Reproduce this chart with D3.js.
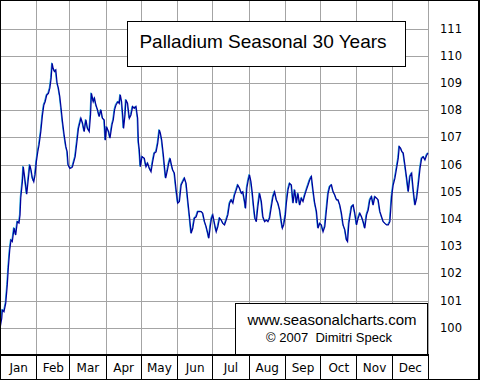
<!DOCTYPE html>
<html><head><meta charset="utf-8">
<script src="https://cdn.jsdelivr.net/npm/d3@7"></script>
<style>html,body{margin:0;padding:0;background:#fff;}svg{display:block;}text{white-space:pre;}</style>
</head><body>
<script>
// ---- data (day of year, seasonal index value) ----
const days = [0,1.5,2,3.4,4.9,6.2,7.1,8.3,9.4,10.5,12,13.4,14.8,16.2,17.1,17.7,19.1,19.9,21.1,22,22.8,23.9,25.4,26.5,27.6,28.8,29.9,31,32.2,33.3,34.8,36.2,37.4,38.5,39.9,41.3,42.5,43.6,44.5,45.3,46.4,47.6,48.7,49.8,51,52.1,53.3,54.7,56.2,57.3,58.1,59.6,61.3,
61.8,64.1,65.6,66.9,69,70.4,71.8,73.3,74.6,76.1,77.2,78,79.5,80.6,81.8,83.2,84.6,86.1,87.4,88.9,89.8,90.9,92.6,93.8,95.5,96.6,97.7,98.9,100.6,101.7,102.6,103.7,104.5,105.4,106.6,107.4,108.8,110.3,111.7,113.1,114.5,116,117.4,118,118.8,119.7,121.1,123.1,
124.5,125.9,127.4,128.8,130.2,131.6,133.1,134.5,135.9,136.8,137.9,139.3,140.4,141.3,142.8,143.9,145.1,146.2,147.3,148.7,150.2,151.6,153,154.5,155.8,157.3,158.7,160.1,161.6,163,164.4,165.8,167.3,168.7,170.1,171.6,172.9,174.4,175.8,177.2,178.1,179.3,180.4,
181.5,182.9,184.4,185.8,187.2,188.7,190,191.5,192.9,194.3,195.8,197.2,198.6,200,201.5,202.8,204.3,205.8,207.1,208.6,209.4,210.5,211.7,212.8,214,215.2,216.3,217.4,218.6,219.9,221.4,222.9,224.2,225.7,227.1,228.5,229.9,231.4,232.8,234.2,235.7,237,238.5,239.9,240.8,241.9,
243.4,244.2,245.6,247,248.5,249.9,251.3,252.8,254.1,255.6,257,258.4,259.9,261.3,262.7,264.1,265.6,266.9,268.4,269.9,271.2,272.7,274.1,275.5,277,278.4,279.8,281.2,282.7,284.1,285.5,287,288.3,289.8,291.2,292.6,294.1,295.5,296.4,297.5,298.9,
299.8,301.2,302.6,304.1,305.4,306.9,308.3,309.7,311.1,312.6,314,315.4,316.9,318.2,319.7,321.2,322.5,324,325.4,326.8,328.2,329.7,331.1,332.5,334,335.3,336.8,338.2,339.6,340.5,341.7,342.8,343.9,345.3,346.8,348.2,349.6,351.1,352.4,353.9,355.3,356.7,358.2,359.6,361,362.4,363.9,365];
const values = [99.98,100.35,100.65,100.59,100.91,101.57,102.2,102.86,103.23,103.17,103.67,103.41,103.9,103.85,104.15,104.77,105.37,105.92,105.51,105.19,104.91,105.37,105.99,105.8,105.5,105.37,105.62,106.11,106.47,106.72,107.21,107.82,108.19,108.31,108.56,108.62,108.81,109.17,109.72,109.54,109.42,109.48,108.99,108.81,108.5,108.07,107.58,107.09,106.66,106.47,105.99,105.86,105.89,
105.92,106.29,106.84,107.33,107.7,107.52,107.21,107.64,107.33,107.21,107.82,108.62,108.31,108.44,108.19,108.01,107.76,108.01,107.7,107.64,106.9,107.39,107.21,106.97,107.46,107.64,108.01,108.19,108.31,108.25,108.56,108.31,107.89,107.33,107.82,108.38,108.25,107.7,107.82,108.13,108.07,108.13,107.7,106.84,106.54,105.92,106.29,106.23,
105.92,106.05,105.86,105.74,106.11,106.42,106.47,106.78,107.27,107.15,106.9,106.36,105.86,105.5,105.8,106.05,106.23,105.99,105.8,105.68,105.07,104.58,104.64,105.25,105.37,105.5,105.31,104.7,104.08,103.47,103.66,104.03,104.08,104.27,104.27,104.27,104.21,103.9,103.72,103.47,103.29,103.72,104.03,
104.15,103.84,103.53,103.72,104.03,103.96,103.84,103.78,103.96,104.15,104.58,104.7,104.58,104.88,105.07,105.25,105.13,104.94,105,104.64,104.39,105.13,105.43,105.62,105.37,104.94,104.45,104.03,103.9,104.45,104.94,104.64,104.08,103.9,103.96,103.9,104.03,104.45,104.82,105,104.7,104.58,104.33,103.9,103.66,103.78,
104.15,104.58,105.07,105.31,105.25,104.58,105.07,104.58,104.94,104.51,104.76,104.64,104.88,105.07,105.25,105.43,105.56,105.07,104.58,104.27,103.66,103.84,103.78,103.53,103.72,104.33,104.94,105.19,105.25,105,104.88,104.7,104.7,104.51,104.21,103.78,103.6,103.23,103.17,103.84,104.21,
104.45,104.51,104.21,103.78,104.03,104.21,104.08,103.9,103.66,104.15,104.33,104.7,104.82,104.51,104.82,104.76,104.7,104.27,104.08,103.9,103.84,103.78,103.78,103.9,104.82,105.25,105.5,105.86,106.23,106.66,106.6,106.47,106.42,105.99,105.5,105,105.56,105.68,105.07,104.51,104.76,105.25,105.86,106.23,106.29,106.17,106.35,106.42];
const months = ["Jan","Feb","Mar","Apr","May","Jun","Jul","Aug","Sep","Oct","Nov","Dec"];
const yTicks = [100,101,102,103,104,105,106,107,108,109,110,111];
const title = "Palladium Seasonal 30 Years";
const credit1 = "www.seasonalcharts.com";
const credit2 = "\u00a9 2007  Dimitri Speck";

const W = 480, H = 380;
const plotR = 428, plotB = 355;
const t0 = new Date(2007,0,1), t1 = new Date(2008,0,1);
const x = d3.scaleTime().domain([t0,t1]).range([0, plotR]);
const y = d3.scaleLinear().domain([99, 112.05]).range([plotB, 0]);
const dayMs = 86400000;
const data = days.map((d,i)=>({t:new Date(t0.getTime()+d*dayMs), v:values[i]}));

const svg = d3.select("body").append("svg").attr("width",W).attr("height",H);
svg.append("rect").attr("width",W).attr("height",H).attr("fill","#fff");

const grid = "#a4a4a4";
// horizontal grid
svg.append("g").selectAll("line").data(yTicks).join("line")
  .attr("x1",0).attr("x2",plotR)
  .attr("y1",d=>Math.round(y(d))+0.5).attr("y2",d=>Math.round(y(d))+0.5)
  .attr("stroke",grid).attr("stroke-width",1);
// vertical grid at month boundaries
const mStarts = d3.timeMonth.range(t0, t1);
const bounds = mStarts.slice(1).concat([t1]);
svg.append("g").selectAll("line").data(bounds).join("line")
  .attr("x1",d=>Math.round(x(d))+0.5).attr("x2",d=>Math.round(x(d))+0.5)
  .attr("y1",0).attr("y2",plotB)
  .attr("stroke",grid).attr("stroke-width",1);

// series line
const line = d3.line().x(d=>x(d.t)).y(d=>y(d.v));
svg.append("path").datum(data).attr("d",line)
  .attr("fill","none").attr("stroke","#22a8d8").attr("stroke-width",1)
  .attr("transform","translate(-0.6,-0.6)");
svg.append("path").datum(data).attr("d",line)
  .attr("fill","none").attr("stroke","#00009c").attr("stroke-width",1.25)
  .attr("stroke-linejoin","miter");

// title box
svg.append("rect").attr("x",127.5).attr("y",21.5).attr("width",278).attr("height",45)
  .attr("fill","#fff").attr("stroke","#000").attr("stroke-width",1);
svg.append("text").attr("x",263).attr("y",48).attr("text-anchor","middle")
  .attr("font-family","Liberation Sans, Arial, sans-serif").attr("font-size",19)
  .attr("fill","#000").text(title);

// credit box
svg.append("rect").attr("x",235.5).attr("y",303.5).attr("width",192).attr("height",51)
  .attr("fill","#fff").attr("stroke","#000").attr("stroke-width",1);
svg.append("text").attr("x",332).attr("y",325).attr("text-anchor","middle")
  .attr("font-family","Liberation Sans, Arial, sans-serif").attr("font-size",15)
  .attr("fill","#000").text(credit1);
svg.append("text").attr("x",329).attr("y",342).attr("text-anchor","middle")
  .attr("font-family","Liberation Sans, Arial, sans-serif").attr("font-size",13)
  .attr("fill","#000").text(credit2);

// bottom axis line
svg.append("line").attr("x1",0).attr("x2",plotR+1).attr("y1",plotB).attr("y2",plotB)
  .attr("stroke","#000").attr("stroke-width",2);
// month separators and labels
svg.append("g").selectAll("line").data(bounds).join("line")
  .attr("x1",d=>Math.round(x(d))+0.5).attr("x2",d=>Math.round(x(d))+0.5)
  .attr("y1",plotB).attr("y2",H)
  .attr("stroke","#000").attr("stroke-width",1);
svg.append("g").selectAll("text").data(mStarts).join("text")
  .attr("x",(d,i)=>(x(d)+x(bounds[i]))/2+0.5).attr("y",371.5)
  .attr("text-anchor","middle")
  .attr("font-family","DejaVu Sans, Verdana, sans-serif").attr("font-size",12)
  .attr("fill","#000").text((d,i)=>months[i]);

// right y labels
svg.append("g").selectAll("text").data(yTicks).join("text")
  .attr("x",440).attr("y",d=>Math.round(y(d))+3.8)
  .attr("font-family","DejaVu Sans, Verdana, sans-serif").attr("font-size",11.5)
  .attr("fill","#000").text(d=>d);

// outer border
svg.append("rect").attr("x",0.5).attr("y",0.5).attr("width",478).attr("height",379)
  .attr("fill","none").attr("stroke","#000").attr("stroke-width",1);
svg.append("line").attr("x1",479.5).attr("x2",479.5).attr("y1",0).attr("y2",H)
  .attr("stroke","#000").attr("stroke-width",1);
</script>
</body></html>
